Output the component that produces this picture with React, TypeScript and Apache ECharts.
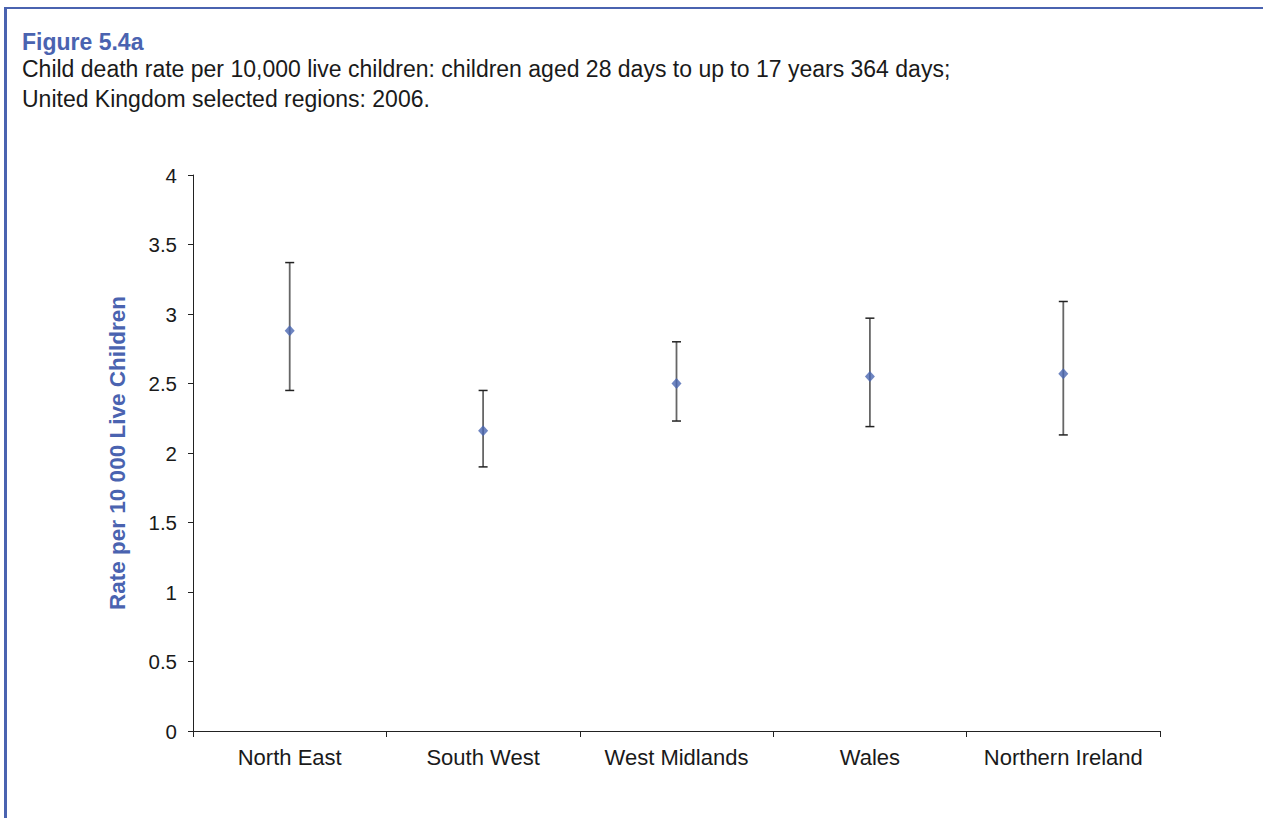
import React, { useEffect, useRef } from "react";
import * as echarts from "echarts";

const categories = ["North East", "South West", "West Midlands", "Wales", "Northern Ireland"];
const rates = [2.88, 2.16, 2.5, 2.55, 2.57];
const lowerCI = [2.45, 1.9, 2.23, 2.19, 2.13];
const upperCI = [3.37, 2.45, 2.8, 2.97, 3.09];
const yTicks = [0, 0.5, 1, 1.5, 2, 2.5, 3, 3.5, 4];

const BLUE = "#4a63b0";
const FONT = "Liberation Sans, Arial, sans-serif";

export default function App() {
  const ref = useRef<HTMLDivElement>(null);
  useEffect(() => {
    if (!ref.current) return;
    const chart = echarts.init(ref.current, undefined, { renderer: "svg" });
    const errData = categories.map((_, i) => [i, lowerCI[i], upperCI[i]]);
    chart.setOption({
      animation: false,
      backgroundColor: "#ffffff",
      textStyle: { fontFamily: FONT },
      graphic: [
        { type: "line", shape: { x1: 5, y1: 8, x2: 1263, y2: 8 }, style: { stroke: BLUE, lineWidth: 2 } },
        { type: "line", shape: { x1: 5.5, y1: 7, x2: 5.5, y2: 818 }, style: { stroke: BLUE, lineWidth: 3 } },
        { type: "text", left: 22, top: 30, style: { text: "Figure 5.4a", font: "bold 23px " + FONT, fill: BLUE } },
        { type: "text", left: 22, top: 57, style: { text: "Child death rate per 10,000 live children: children aged 28 days to up to 17 years 364 days;", font: "23px " + FONT, fill: "#1a1a1a" } },
        { type: "text", left: 22, top: 87, style: { text: "United Kingdom selected regions: 2006.", font: "23px " + FONT, fill: "#1a1a1a" } },
      ],
      grid: { left: 193, right: 103, top: 175, bottom: 87, containLabel: false },
      xAxis: {
        type: "category",
        data: categories,
        boundaryGap: true,
        axisLine: { lineStyle: { color: "#222", width: 1 } },
        axisTick: { show: true, length: 6, interval: 0, lineStyle: { color: "#222" } },
        axisLabel: { color: "#1a1a1a", fontSize: 22, margin: 15, interval: 0, hideOverlap: false, fontFamily: FONT },
        splitLine: { show: false },
      },
      yAxis: {
        type: "value",
        min: 0,
        max: 4,
        interval: 0.5,
        name: "Rate per 10 000 Live Children",
        nameLocation: "middle",
        nameGap: 64,
        nameTextStyle: { color: BLUE, fontWeight: "bold", fontSize: 22.5, fontFamily: FONT },
        axisLine: { show: true, lineStyle: { color: "#222", width: 1 } },
        axisTick: { show: true, length: 5, lineStyle: { color: "#222" } },
        axisLabel: {
          color: "#1a1a1a",
          fontSize: 20.5,
          margin: 16,
          fontFamily: FONT,
          formatter: (v: number) => (yTicks.includes(v) ? String(v) : ""),
        },
        splitLine: { show: false },
      },
      series: [
        {
          type: "custom",
          data: errData,
          renderItem: (params: any, api: any) => {
            const x = api.value(0);
            const lo = api.coord([x, api.value(1)]);
            const hi = api.coord([x, api.value(2)]);
            const cap = 4.5;
            const style = { stroke: "#666", lineWidth: 1.8 };
            const capStyle = { stroke: "#222", lineWidth: 1.5 };
            return {
              type: "group",
              children: [
                { type: "line", shape: { x1: hi[0], y1: hi[1], x2: lo[0], y2: lo[1] }, style },
                { type: "line", shape: { x1: hi[0] - cap, y1: hi[1], x2: hi[0] + cap, y2: hi[1] }, style: capStyle },
                { type: "line", shape: { x1: lo[0] - cap, y1: lo[1], x2: lo[0] + cap, y2: lo[1] }, style: capStyle },
              ],
            };
          },
          z: 1,
        },
        {
          type: "scatter",
          data: rates,
          symbol: "diamond",
          symbolSize: [10, 11],
          itemStyle: { color: "#4a66b2" },
          z: 2,
        },
      ],
    });
    return () => chart.dispose();
  }, []);
  return (
    <div
      ref={ref}
      style={{ position: "fixed", left: 0, top: 0, width: 1263, height: 818 }}
    />
  );
}
